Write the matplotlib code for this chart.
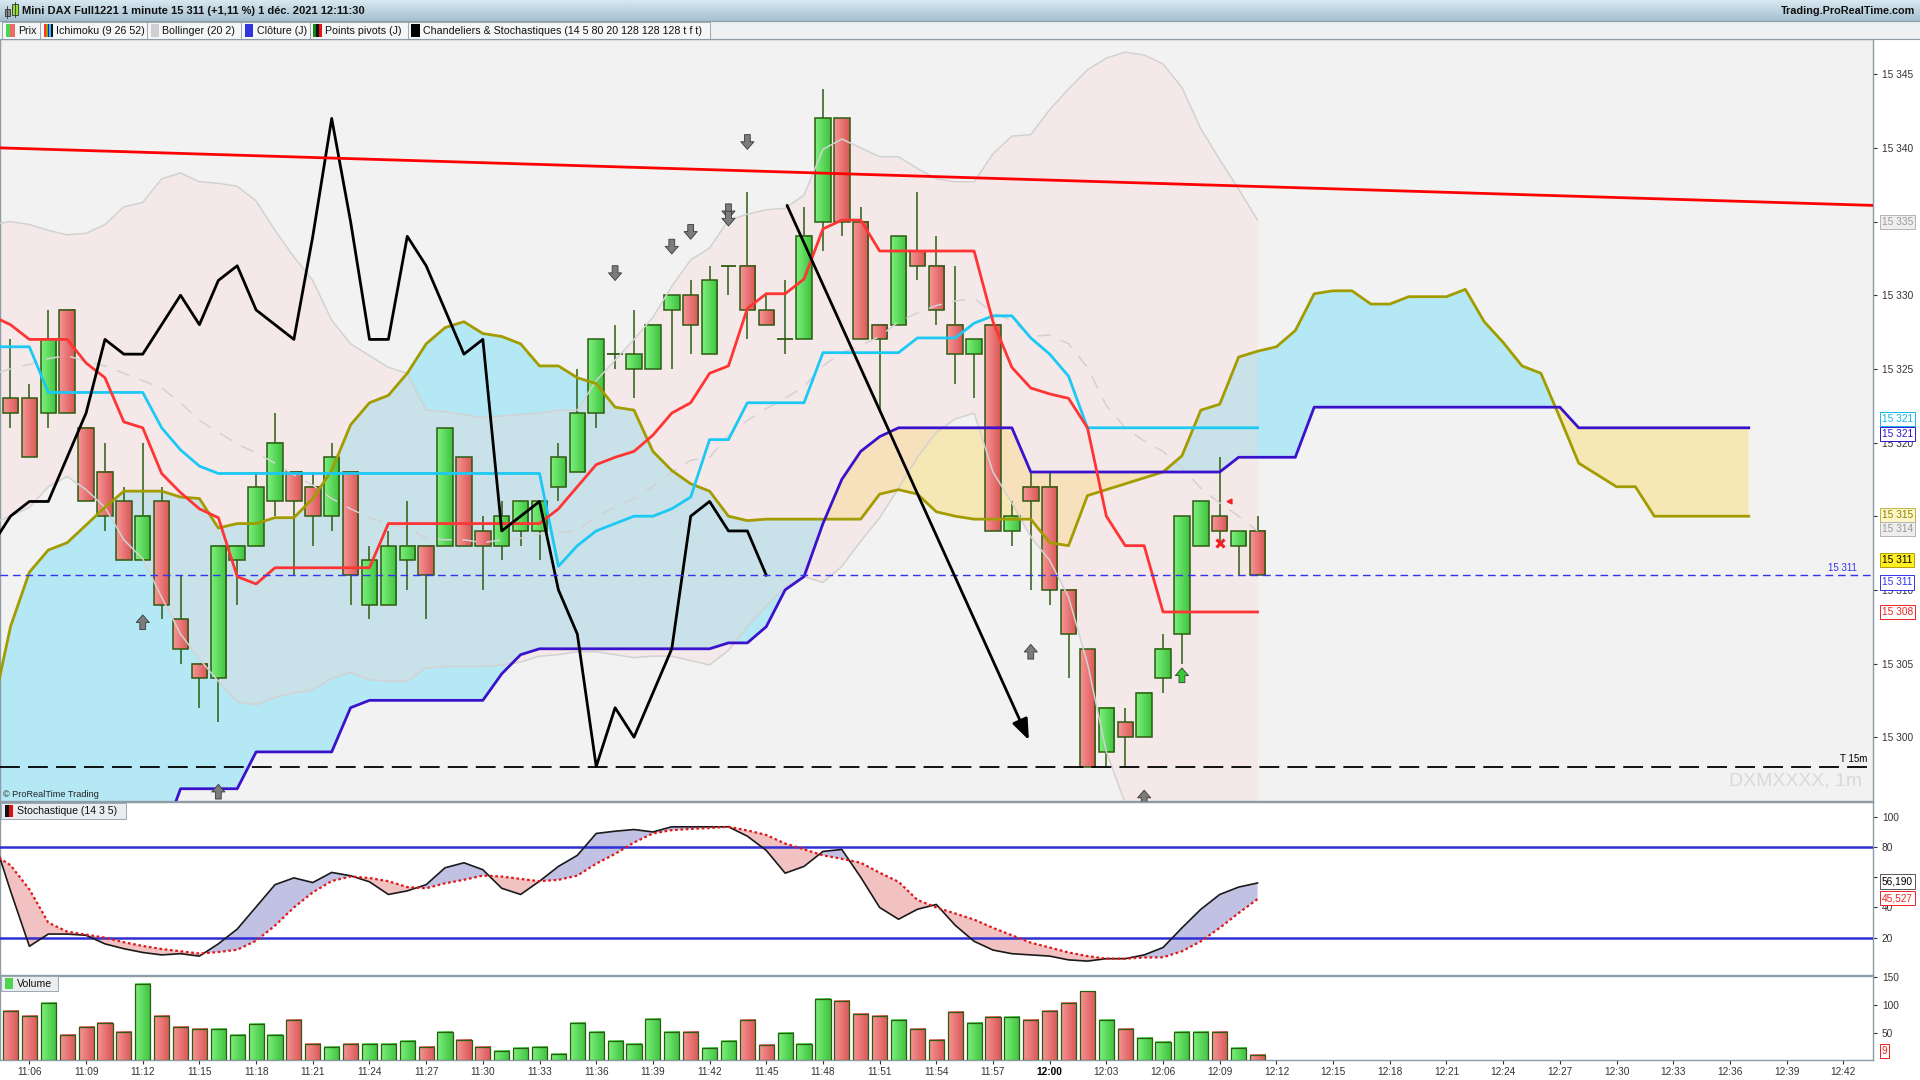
import numpy as np
import matplotlib
matplotlib.use("Agg")
import matplotlib.pyplot as plt
from matplotlib.colors import LinearSegmentedColormap
from matplotlib.patches import Rectangle
from matplotlib.transforms import blended_transform_factory, offset_copy

plt.rcParams['font.family'] = ['Liberation Sans', 'DejaVu Sans']

# ---------------- data (x = minutes after 11:06) ----------------
candle_minutes = list(range(-1, 66))
opens = [15323, 15323, 15322, 15329, 15321, 15318, 15316, 15312, 15316, 15308,
         15305, 15304, 15312, 15313, 15316, 15318, 15317, 15315, 15318, 15309,
         15309, 15312, 15313, 15313, 15319, 15314, 15313, 15314, 15314, 15317,
         15318, 15322, 15326, 15325, 15325, 15329, 15330, 15326, 15332, 15332,
         15329, 15327, 15327, 15335, 15342, 15335, 15328, 15328, 15333, 15332,
         15328, 15326, 15328, 15314, 15317, 15317, 15310, 15306, 15299, 15301,
         15300, 15304, 15307, 15313, 15315, 15313, 15314]
highs = [15327, 15324, 15329, 15329, 15321, 15320, 15317, 15320, 15317, 15311,
         15305, 15313, 15313, 15318, 15322, 15318, 15318, 15320, 15318, 15313,
         15314, 15316, 15313, 15321, 15319, 15315, 15316, 15316, 15316, 15320,
         15325, 15327, 15328, 15329, 15328, 15330, 15331, 15332, 15332, 15337,
         15330, 15331, 15336, 15344, 15342, 15336, 15328, 15334, 15337, 15334,
         15332, 15327, 15328, 15316, 15318, 15318, 15310, 15306, 15302, 15302,
         15303, 15307, 15315, 15316, 15319, 15314, 15315]
lows = [15321, 15319, 15321, 15322, 15316, 15314, 15312, 15312, 15308, 15305,
        15302, 15301, 15309, 15313, 15315, 15311, 15313, 15314, 15309, 15308,
        15309, 15310, 15308, 15313, 15313, 15310, 15312, 15313, 15312, 15316,
        15318, 15321, 15325, 15323, 15325, 15325, 15326, 15326, 15330, 15327,
        15328, 15326, 15327, 15333, 15334, 15327, 15322, 15328, 15331, 15328,
        15324, 15323, 15314, 15313, 15310, 15309, 15304, 15298, 15298, 15298,
        15300, 15303, 15305, 15313, 15313, 15311, 15311]
closes = [15322, 15319, 15327, 15322, 15316, 15315, 15312, 15315, 15309, 15306,
          15304, 15313, 15313, 15317, 15320, 15316, 15315, 15319, 15311, 15312,
          15313, 15313, 15311, 15321, 15313, 15313, 15315, 15316, 15316, 15319,
          15322, 15327, 15326, 15326, 15328, 15330, 15328, 15331, 15332, 15329,
          15328, 15327, 15334, 15342, 15335, 15327, 15327, 15334, 15332, 15329,
          15326, 15327, 15314, 15315, 15316, 15310, 15307, 15298, 15302, 15300,
          15303, 15306, 15315, 15316, 15314, 15314, 15311]
volumes = [89, 80, 104, 46, 61, 67, 52, 137, 80, 61,
           57, 57, 46, 65, 46, 72, 30, 24, 30, 30,
           30, 35, 24, 52, 37, 24, 17, 22, 24, 11,
           67, 52, 35, 30, 74, 52, 52, 22, 35, 72,
           28, 50, 30, 111, 107, 83, 80, 72, 57, 37,
           87, 67, 78, 78, 72, 89, 104, 124, 72, 57,
           41, 33, 52, 52, 52, 22, 9]

ind_minutes = list(range(-2, 66))
tenkan = [15328.6, 15328.0, 15327.0, 15327.0, 15327.0, 15325.4, 15324.4, 15321.4, 15321.0, 15317.9,
          15316.6, 15315.5, 15314.9, 15310.9, 15310.4, 15311.5, 15311.5, 15311.5, 15311.5, 15311.5,
          15311.5, 15314.5, 15314.5, 15314.5, 15314.5, 15314.5, 15314.5, 15314.5, 15314.5, 15314.5,
          15315.5, 15317.0, 15318.5, 15319.0, 15319.4, 15320.5, 15322.0, 15322.7, 15324.7, 15325.2,
          15329.1, 15330.1, 15330.1, 15331.1, 15334.5, 15335.1, 15335.1, 15333.0, 15333.0, 15333.0,
          15333.0, 15333.0, 15333.0, 15328.2, 15325.1, 15323.7, 15323.3, 15323.0, 15321.0, 15315.0,
          15313.0, 15313.0, 15308.5, 15308.5, 15308.5, 15308.5, 15308.5, 15308.5]
kijun = [15326.5, 15326.5, 15326.5, 15323.4, 15323.4, 15323.4, 15323.4, 15323.4, 15323.4, 15321.0,
         15319.5, 15318.4, 15317.9, 15317.9, 15317.9, 15317.9, 15317.9, 15317.9, 15317.9, 15317.9,
         15317.9, 15317.9, 15317.9, 15317.9, 15317.9, 15317.9, 15317.9, 15317.9, 15317.9, 15317.9,
         15311.6, 15313.0, 15314.0, 15314.5, 15315.0, 15315.0, 15315.5, 15316.3, 15320.2, 15320.2,
         15322.7, 15322.7, 15322.7, 15322.7, 15326.1, 15326.1, 15326.1, 15326.1, 15326.1, 15327.1,
         15327.1, 15327.1, 15328.1, 15328.6, 15328.6, 15327.1, 15326.0, 15324.5, 15321.0, 15321.0,
         15321.0, 15321.0, 15321.0, 15321.0, 15321.0, 15321.0, 15321.0, 15321.0]
boll_upper = [15334.8, 15335.0, 15334.8, 15334.4, 15334.1, 15334.2, 15334.8, 15336.0, 15336.3, 15337.9,
              15338.3, 15337.7, 15337.6, 15337.4, 15336.4, 15334.4, 15332.6, 15331.0, 15328.3, 15326.7,
              15325.9, 15325.1, 15324.7, 15322.2, 15322.1, 15321.9, 15321.7, 15321.8, 15321.9, 15322.0,
              15322.2, 15322.2, 15324.2, 15325.6, 15327.0, 15328.5, 15330.6, 15332.4, 15333.2, 15335.1,
              15335.5, 15335.8, 15335.9, 15336.8, 15339.9, 15340.6, 15340.0, 15339.4, 15339.4, 15338.6,
              15337.9, 15337.7, 15337.7, 15339.6, 15340.8, 15340.9, 15342.6, 15344.0, 15345.3, 15346.1,
              15346.5, 15346.3, 15345.7, 15344.1, 15341.3, 15339.2, 15337.2, 15335.1]
boll_mid = [15324.6, 15325.0, 15325.3, 15325.7, 15325.9, 15325.5, 15325.2, 15324.7, 15324.2, 15323.7,
            15322.7, 15321.5, 15320.7, 15319.9, 15319.3, 15318.6, 15317.8, 15317.1, 15316.2, 15315.5,
            15314.9, 15314.5, 15314.2, 15313.5, 15313.4, 15313.4, 15313.2, 15313.4, 15313.5, 15313.8,
            15313.9, 15314.0, 15315.0, 15315.6, 15316.2, 15317.0, 15318.0, 15318.8, 15319.0, 15320.5,
            15321.5, 15322.3, 15323.0, 15323.8, 15325.2, 15326.1, 15326.6, 15327.2, 15328.2, 15328.8,
            15329.3, 15329.6, 15329.8, 15328.8, 15328.3, 15327.2, 15327.3, 15326.7, 15325.1, 15322.5,
            15321.0, 15320.1, 15319.4, 15318.3, 15316.9, 15315.9, 15315.0, 15314.0]
boll_lower = [15314.5, 15315.0, 15315.6, 15317.0, 15317.7, 15316.8, 15315.6, 15313.4, 15312.1, 15309.5,
              15307.0, 15305.3, 15303.8, 15302.4, 15302.2, 15302.7, 15303.0, 15303.2, 15304.0, 15304.4,
              15303.9, 15303.8, 15303.8, 15304.7, 15304.8, 15304.8, 15304.8, 15304.9, 15305.1, 15305.5,
              15305.6, 15305.8, 15305.8, 15305.6, 15305.4, 15305.5, 15305.5, 15305.2, 15304.9, 15305.9,
              15307.5, 15308.9, 15310.2, 15310.9, 15310.5, 15311.6, 15313.3, 15314.9, 15316.9, 15319.0,
              15320.7, 15321.6, 15322.0, 15318.0, 15315.9, 15313.6, 15312.0, 15309.5, 15305.0, 15299.0,
              15295.5, 15294.0, 15293.0, 15292.5, 15292.5, 15292.5, 15292.8, 15293.0]
stoch_k = [90, 51, 14.3, 22.4, 22.4, 21.6, 15.9, 12.7, 10.2, 8.6,
           9.4, 7.8, 15.9, 25.7, 40.4, 55.1, 59.6, 56.5, 63.2, 61.0,
           57.0, 48.6, 51.0, 55.1, 66.3, 69.6, 65.0, 52.7, 48.6, 57.4,
           67.2, 74.5, 89.0, 90.5, 91.6, 90.0, 93.4, 93.4, 93.4, 93.4,
           87.2, 77.8, 62.7, 67.2, 77.1, 78.4, 60.0, 40.0, 32.2, 38.8,
           42.0, 28.2, 17.6, 11.8, 9.4, 8.6, 7.8, 5.3, 4.5, 6.1,
           6.1, 8.6, 13.5, 26.5, 38.8, 48.6, 53.5, 56.19]
stoch_d = [76, 68, 52, 30, 24, 22, 20, 17, 14.5, 12.5,
           11, 9.5, 10.5, 12, 18, 28, 40, 50, 57.5, 60.5,
           59.5, 57.4, 53.5, 52.7, 56.0, 58.3, 61.1, 60.5, 58.9, 57.4,
           58.3, 61.1, 69.0, 75.5, 83.0, 89.0, 91.2, 92.0, 92.6, 93.4,
           91.0, 88.0, 82.3, 78.5, 74.5, 72.2, 69.6, 63.0, 57.0, 45.0,
           40.0, 36.0, 32.0, 26.5, 21.6, 16.7, 13.5, 10.2, 7.8, 6.1,
           6.1, 6.9, 7.0, 11.0, 17.6, 26.5, 36.3, 45.527]

cloud_minutes = list(range(-2, 92))
span_a = [15301.5, 15307.5, 15311.2, 15312.7, 15313.2, 15314.4, 15315.6, 15316.7, 15316.7, 15316.7,
          15316.3, 15316.2, 15314.2, 15314.5, 15314.5, 15314.9, 15314.9, 15316.2, 15318.1, 15321.2,
          15322.7, 15323.2, 15324.7, 15326.7, 15327.8, 15328.2, 15327.4, 15327.2, 15326.7, 15325.2,
          15325.2, 15324.4, 15324.0, 15322.4, 15322.2, 15319.4, 15318.1, 15317.2, 15316.7, 15315.0,
          15314.7, 15314.8, 15314.8, 15314.8, 15314.8, 15314.8, 15314.8, 15316.5, 15316.8, 15316.5,
          15315.3, 15315.0, 15314.8, 15314.8, 15314.8, 15314.8, 15313.2, 15313.0, 15316.4, 15316.8,
          15317.2, 15317.6, 15318.0, 15319.1, 15322.2, 15322.6, 15325.8, 15326.2, 15326.5, 15327.6,
          15330.1, 15330.3, 15330.3, 15329.4, 15329.4, 15329.9, 15329.9, 15329.9, 15330.4, 15328.2,
          15326.8, 15325.2, 15324.7, 15321.7, 15318.6, 15317.8, 15317.0, 15317.0, 15315.0, 15315.0,
          15315.0, 15315.0, 15315.0, 15315.0]
span_b = [15293.0, 15293.0, 15293.0, 15293.0, 15293.0, 15293.0, 15293.0, 15293.0, 15293.0, 15293.0,
          15296.5, 15296.5, 15296.5, 15296.5, 15299.0, 15299.0, 15299.0, 15299.0, 15299.0, 15302.0,
          15302.5, 15302.5, 15302.5, 15302.5, 15302.5, 15302.5, 15302.5, 15304.3, 15305.6, 15306.0,
          15306.0, 15306.0, 15306.0, 15306.0, 15306.0, 15306.0, 15306.0, 15306.0, 15306.0, 15306.4,
          15306.4, 15307.5, 15310.0, 15310.9, 15314.5, 15317.5, 15319.4, 15320.4, 15321.0, 15321.0,
          15321.0, 15321.0, 15321.0, 15321.0, 15321.0, 15318.0, 15318.0, 15318.0, 15318.0, 15318.0,
          15318.0, 15318.0, 15318.0, 15318.0, 15318.0, 15318.0, 15319.0, 15319.0, 15319.0, 15319.0,
          15322.4, 15322.4, 15322.4, 15322.4, 15322.4, 15322.4, 15322.4, 15322.4, 15322.4, 15322.4,
          15322.4, 15322.4, 15322.4, 15322.4, 15321.0, 15321.0, 15321.0, 15321.0, 15321.0, 15321.0,
          15321.0, 15321.0, 15321.0, 15321.0]

trend_minutes = [-1.5, 97.5]
trend_prices = [15340.0, 15336.1]
prev_close = 15311
level_15m = 15298
drawn_arrow = [(40.1, 15336.1), (52.9, 15299.8)]

down_arrow_minutes = [31, 34, 35, 37, 37, 38]
down_arrow_prices = [15331.5, 15333.3, 15334.3, 15335.7, 15335.2, 15340.4]
up_arrow_minutes = [6, 10, 53, 59]
up_arrow_prices = [15307.8, 15296.3, 15305.8, 15295.9]
buy_arrow = (61, 15304.2)
sell_cross = (63, 15313.2)
sell_flag = (63.5, 15316.0)

tick_minutes = list(range(0, 97, 3))
tick_labels = ['11:06', '11:09', '11:12', '11:15', '11:18', '11:21', '11:24', '11:27', '11:30',
               '11:33', '11:36', '11:39', '11:42', '11:45', '11:48', '11:51', '11:54', '11:57',
               '12:00', '12:03', '12:06', '12:09', '12:12', '12:15', '12:18', '12:21', '12:24',
               '12:27', '12:30', '12:33', '12:36', '12:39', '12:42']

# ---------------- layout ----------------
W, H = 1568, 882


def rect(x0, y0, x1, y1):
    return [x0 / W, 1 - y1 / H, (x1 - x0) / W, (y1 - y0) / H]


def fmt(v):
    return f'{int(round(v)):,}'.replace(',', ' ')


fig = plt.figure(figsize=(19.2, 10.8), dpi=100, facecolor='white')
ax = fig.add_axes(rect(0, 32, 1530, 654), facecolor='#f2f2f2')
ax_st = fig.add_axes(rect(0, 655, 1530, 796), facecolor='white')
ax_v = fig.add_axes(rect(0, 797, 1530, 866), facecolor='white')

XMIN, XMAX = -1.555, 97.6
spine_c = '#8e9ca6'
edge_c = '#2d5c10'
grad = np.linspace(0, 1, 24).reshape(1, -1)
green_cm = LinearSegmentedColormap.from_list('gb', ['#7cf07c', '#3fc23f'])
red_cm = LinearSegmentedColormap.from_list('rb', ['#f79494', '#d95757'])
TICK_FS = 7.3


def body(axis, x, lo, hi, up, width, lw=1.1):
    axis.imshow(grad, cmap=green_cm if up else red_cm, aspect='auto', interpolation='bilinear',
                extent=(x - width / 2, x + width / 2, lo, hi), zorder=5)
    axis.add_patch(Rectangle((x - width / 2, lo), width, hi - lo, fill=False, ec=edge_c, lw=lw, zorder=6))


def tag(axis, y, txt, tc, fc, ec):
    tr = offset_copy(blended_transform_factory(axis.transAxes, axis.transData), fig=fig, x=6, y=0,
                     units='points')
    axis.text(1.0, y, txt, transform=tr, ha='left', va='center', fontsize=TICK_FS, color=tc,
              clip_on=False, zorder=20, bbox=dict(boxstyle='square,pad=0.2', fc=fc, ec=ec, lw=0.7))


def right_ticks(axis):
    axis.tick_params(axis='y', right=True, left=False, labelright=True, labelleft=False,
                     length=3, labelsize=TICK_FS, colors='#333333', pad=3)


# ---------------- main price panel ----------------
a = np.array(span_a)
b = np.array(span_b)
ax.fill_between(cloud_minutes, a, b, where=a >= b, interpolate=True, color='#b4e8f4', lw=0, zorder=1)
ax.fill_between(cloud_minutes, a, b, where=a < b, interpolate=True, color='#f5e8b5', lw=0, zorder=1)
ax.fill_between(ind_minutes, boll_upper, boll_lower, color='#fcd1d1', alpha=0.3, lw=0, zorder=1.5)

for m, o, h, l, c in zip(candle_minutes, opens, highs, lows, closes):
    ax.vlines(m, l, h, color=edge_c, lw=1.1, zorder=4)
    if o == c:
        ax.hlines(o, m - 0.41, m + 0.41, color=edge_c, lw=1.3, zorder=6)
    else:
        body(ax, m, min(o, c), max(o, c), c > o, 0.82)

ax.plot(ind_minutes, boll_upper, color='#d2d2d2', lw=1.1, zorder=7)
ax.plot(ind_minutes, boll_lower, color='#d2d2d2', lw=1.1, zorder=7)
ax.plot(ind_minutes, boll_mid, color='#d2d2d2', lw=1.1, dashes=(9, 7), zorder=7)
ax.plot(cloud_minutes, span_a, color='#a29c00', lw=2.0, zorder=8)
ax.plot(cloud_minutes, span_b, color='#3a12cc', lw=2.0, zorder=8)
ax.plot(ind_minutes, kijun, color='#1cc8f4', lw=2.0, zorder=8)
ax.plot(ind_minutes, tenkan, color='#ff3434', lw=2.0, zorder=8)
chikou_x = [m - 26 for m in candle_minutes if m >= 24]
chikou_y = [c for m, c in zip(candle_minutes, closes) if m >= 24]
ax.plot(chikou_x, chikou_y, color='black', lw=2.0, zorder=8)
ax.plot(trend_minutes, trend_prices, color='#ff0000', lw=2.0, zorder=8)
ax.axhline(prev_close, color='#3333ee', lw=1.0, dashes=(5.5, 3.5), zorder=8)
ax.axhline(level_15m, color='black', lw=1.3, dashes=(11, 4.5), zorder=8)
ax.annotate('', xy=drawn_arrow[1], xytext=drawn_arrow[0], zorder=9,
            arrowprops=dict(arrowstyle='-|>,head_length=0.9,head_width=0.35', color='black', lw=2.0,
                            shrinkA=0, shrinkB=0, mutation_scale=14))


def marker_arrow(x, y, down, fc):
    half = 0.5
    tail, tip = (y + half, y - half) if down else (y - half, y + half)
    ax.annotate('', xy=(x, tip), xytext=(x, tail), zorder=10,
                arrowprops=dict(arrowstyle='simple,head_length=0.55,head_width=0.95,tail_width=0.42',
                                fc=fc, ec='#3a3a3a', lw=0.6, shrinkA=0, shrinkB=0))


for m, p in zip(down_arrow_minutes, down_arrow_prices):
    marker_arrow(m, p, True, '#7c7c7c')
for m, p in zip(up_arrow_minutes, up_arrow_prices):
    marker_arrow(m, p, False, '#7c7c7c')
marker_arrow(buy_arrow[0], buy_arrow[1], False, '#33cc33')
ax.plot(*sell_cross, marker='x', color='#ee2222', ms=6, mew=2.2, zorder=10)
ax.plot(*sell_flag, marker='<', color='#ee2222', ms=3.5, zorder=10)

trm = blended_transform_factory(ax.transAxes, ax.transData)
ax.text(0.9837, prev_close + 0.15, fmt(prev_close), transform=trm, color='#3333ee', fontsize=7,
        ha='center', va='bottom', zorder=11)
ax.text(0.9967, level_15m + 0.2, 'T 15m', transform=trm, color='black', fontsize=7,
        ha='right', va='bottom', zorder=11)
ax.text(0.994, 15297.0, 'DXMXXXX, 1m', transform=trm, color='#d9d9d9', fontsize=14,
        ha='right', va='center', zorder=11)
ax.text(0.0015, 0.002, '© ProRealTime Trading', transform=ax.transAxes, color='#222222',
        fontsize=6.6, ha='left', va='bottom', zorder=11)

ax.set_xlim(XMIN, XMAX)
ax.set_ylim(15295.68, 15347.38)
price_ticks = list(range(15300, 15346, 5))
ax.set_yticks(price_ticks)
# the 15 335 level sits fully under its value tag
ax.set_yticklabels(['' if v == 15335 else fmt(v) for v in price_ticks])
right_ticks(ax)
ax.tick_params(axis='x', bottom=False, labelbottom=False)

main_tags = [(15335.0, '15 335', '#9a9a9a', '#eeeeee', '#b4b4b4'),
             (15321.6, '15 321', '#12b6ea', 'white', '#12b6ea'),
             (15320.6, '15 321', '#3311cc', 'white', '#3311cc'),
             (15315.1, '15 315', '#8a8600', '#fdf6c8', '#bdb54a'),
             (15314.1, '15 314', '#999999', '#eeeeee', '#b4b4b4'),
             (15312.0, '15 311', 'black', '#ffee22', '#b3a300'),
             (15310.5, '15 311', '#3333ee', 'white', '#3333ee'),
             (15308.5, '15 308', '#ee2222', 'white', '#ee2222')]
for y, txt, tc, fc, ec in main_tags:
    tag(ax, y, txt, tc, fc, ec)

# ---------------- stochastic panel ----------------
k = np.array(stoch_k)
d = np.array(stoch_d)
ax_st.fill_between(ind_minutes, k, d, where=k >= d, interpolate=True, color='#c1c1e4', lw=0)
ax_st.fill_between(ind_minutes, k, d, where=k < d, interpolate=True, color='#f2c1c1', lw=0)
ax_st.plot(ind_minutes, k, color='#1a1a1a', lw=1.2, zorder=4)
ax_st.plot(ind_minutes, d, color='#e01818', lw=1.6, ls=(0, (1.2, 1.2)), zorder=4)
ax_st.axhline(80, color='#3030d4', lw=1.8, zorder=3)
ax_st.axhline(20, color='#3030d4', lw=1.8, zorder=3)
ax_st.set_xlim(XMIN, XMAX)
ax_st.set_ylim(-4.5, 109.8)
ax_st.set_yticks([20, 40, 60, 80, 100])
ax_st.set_yticklabels(['20', '40', '', '80', '100'])
right_ticks(ax_st)
ax_st.tick_params(axis='x', bottom=False, labelbottom=False)
tag(ax_st, 57.2, '56,190', 'black', 'white', '#555555')
tag(ax_st, 46.0, '45,527', '#ee2222', 'white', '#ee2222')

# ---------------- volume panel ----------------
for m, o, c, v in zip(candle_minutes, opens, closes, volumes):
    body(ax_v, m, 0, v, c >= o, 0.8, lw=0.9)
ax_v.set_xlim(XMIN, XMAX)
ax_v.set_ylim(0, 152)
ax_v.set_yticks([50, 100, 150])
right_ticks(ax_v)
ax_v.set_xticks(tick_minutes)
ax_v.set_xticklabels(tick_labels)
ax_v.tick_params(axis='x', length=3, labelsize=TICK_FS, colors='#333333', pad=2)
for lbl in ax_v.get_xticklabels():
    if lbl.get_text() == '12:00':
        lbl.set_fontweight('bold')
        lbl.set_color('black')
tag(ax_v, 17, '9', '#ee2222', 'white', '#ee2222')

for axis in (ax, ax_st, ax_v):
    for sp in axis.spines.values():
        sp.set_color(spine_c)
        sp.set_linewidth(1.0)

# ---------------- header, legend row, panel labels ----------------
ov = fig.add_axes([0, 0, 1, 1], zorder=10)
ov.axis('off')
title_cm = LinearSegmentedColormap.from_list('tb', ['#d7e7f0', '#a6c1d1'])
ov.imshow(np.linspace(0, 1, 20).reshape(-1, 1), cmap=title_cm, aspect='auto', extent=(0, W, 17, 0))
ov.add_patch(Rectangle((0, 17), W, 15, fc='#eef0f2', ec='none'))
ov.plot([0, W], [17, 17], color='#8e9ca6', lw=0.8)
ov.plot([0, W], [32, 32], color='#8e9ca6', lw=0.8)
# small candle icon
ov.add_patch(Rectangle((4, 7), 4, 6, fc='#8a8a8a', ec='#333333', lw=0.6))
ov.plot([6, 6], [5, 15], color='#333333', lw=0.6)
ov.add_patch(Rectangle((10, 3), 5, 9, fc='#8ee02a', ec='#333333', lw=0.6))
ov.plot([12.5, 12.5], [1.5, 14], color='#333333', lw=0.6)
ov.text(18, 9, 'Mini DAX Full1221 1 minute 15 311 (+1,11 %) 1 déc. 2021 12:11:30', fontsize=8.0,
        fontweight='bold', color='#111111', va='center', ha='left')
ov.text(1564, 9, 'Trading.ProRealTime.com', fontsize=7.8, fontweight='bold', color='#111111',
        va='center', ha='right')

legend_items = [('Prix', 2, 33, ['#4fd44f', '#ee6a6a']),
                ('Ichimoku (9 26 52)', 33, 120, ['#ff3434', '#a29c00', '#3a12cc', '#1cc8f4', '#111111']),
                ('Bollinger (20 2)', 120, 197, ['#cfcfcf']),
                ('Clôture (J)', 197, 253, ['#3333dd']),
                ('Points pivots (J)', 253, 333, ['#118811', '#111111', '#ee1111']),
                ('Chandeliers & Stochastiques (14 5 80 20 128 128 128 t f t)', 333, 580, ['#000000'])]
for label, x0, x1, cols in legend_items:
    ov.add_patch(Rectangle((x0, 18), x1 - x0, 13.5, fc='#f5f6f7', ec='#9aa8b2', lw=0.7))
    sw = 7.0 / len(cols)
    for i, col in enumerate(cols):
        ov.add_patch(Rectangle((x0 + 3 + i * sw, 19.5), sw, 10.5, fc=col, ec='none'))
    ov.text(x0 + 12.5, 25, label, fontsize=7.7, color='#111111', va='center', ha='left')

ov.add_patch(Rectangle((1, 656), 102, 12.5, fc='#e9edf0', ec='#9aa8b2', lw=0.7))
ov.add_patch(Rectangle((4, 657.5), 3.5, 9.5, fc='#111111', ec='none'))
ov.add_patch(Rectangle((7.5, 657.5), 3.5, 9.5, fc='#dd1111', ec='none'))
ov.text(14, 662.3, 'Stochastique (14 3 5)', fontsize=7.6, color='#111111', va='center', ha='left')
ov.add_patch(Rectangle((1, 797), 46, 12.5, fc='#e9edf0', ec='#9aa8b2', lw=0.7))
ov.add_patch(Rectangle((4, 798.5), 7, 9.5, fc='#4fd44f', ec='none'))
ov.text(14, 803.3, 'Volume', fontsize=7.6, color='#111111', va='center', ha='left')
ov.set_xlim(0, W)
ov.set_ylim(H, 0)

fig.savefig('out.png', dpi=100, facecolor='white')
